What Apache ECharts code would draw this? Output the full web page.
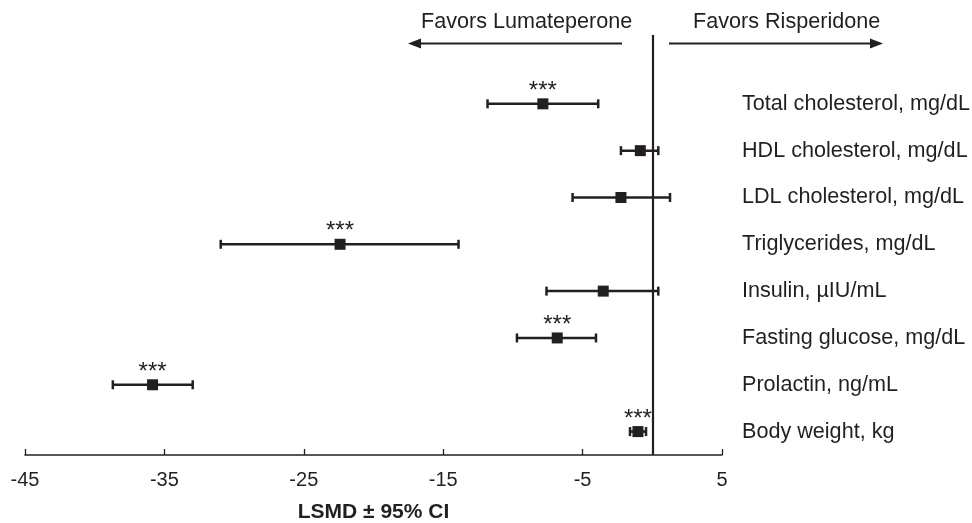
<!DOCTYPE html>
<html>
<head>
<meta charset="utf-8">
<script src="https://cdn.jsdelivr.net/npm/echarts@6/dist/echarts.min.js"></script>
<style>html,body{margin:0;padding:0;background:#fff}#c{width:972px;height:523px}</style>
</head>
<body>
<div id="c"></div>
<script>
var categories = ['Total cholesterol, mg/dL','HDL cholesterol, mg/dL','LDL cholesterol, mg/dL','Triglycerides, mg/dL','Insulin, \u00b5IU/mL','Fasting glucose, mg/dL','Prolactin, ng/mL','Body weight, kg'];
var lsmd  = [-7.85, -0.86, -2.25, -22.4, -3.52, -6.82, -35.85, -1.03];
var lower = [-11.82, -2.25, -5.72, -30.96, -7.59, -9.71, -38.7, -1.6];
var upper = [-3.88, 0.43, 1.27, -13.9, 0.43, -4.04, -32.97, -0.45];
var significance = ['***', '', '', '***', '', '***', '***', '***'];
var xTicks = [-45, -35, -25, -15, -5, 5];
var rowIndex = [0, 1, 2, 3, 4, 5, 6, 7];

var INK = '#231f20';
var FONT = "'Liberation Sans', Arial, Helvetica, sans-serif";

var barData = rowIndex.map(function (i) { return [lower[i], upper[i], i]; });
var pointData = rowIndex.map(function (i) { return [lsmd[i], i, significance[i]]; });

var chart = echarts.init(document.getElementById('c'), null, {renderer: 'canvas'});
chart.setOption({
  animation: false,
  backgroundColor: '#fff',
  textStyle: {fontFamily: FONT},
  grid: {left: 25, right: 250, top: 35, bottom: 68, containLabel: false, outerBoundsMode: 'none'},
  xAxis: {
    type: 'value', min: -45, max: 5,
    axisLine: {show: true, onZero: false, lineStyle: {color: INK, width: 1.6}},
    axisTick: {show: true, inside: true, length: 6, customValues: xTicks, lineStyle: {color: INK, width: 1.3}},
    axisLabel: {customValues: xTicks, color: INK, fontSize: 20, margin: 15, fontFamily: FONT},
    splitLine: {show: false},
    name: 'LSMD \u00b1 95% CI', nameLocation: 'middle', nameGap: 47,
    nameTextStyle: {color: INK, fontSize: 21, fontWeight: 'bold', fontFamily: FONT}
  },
  yAxis: {
    type: 'value', inverse: true, min: -1.47, max: 7.5, position: 'right',
    axisLine: {show: false}, axisTick: {show: false}, splitLine: {show: false},
    axisLabel: {
      customValues: rowIndex, align: 'left', margin: 20, color: INK, fontSize: 21.6, fontFamily: FONT,
      formatter: function (v) { return categories[Math.round(v)] || ''; }
    }
  },
  series: [
    {
      type: 'custom',
      data: barData,
      encode: {x: [0, 1], y: 2},
      renderItem: function (params, api) {
        var a = api.coord([api.value(0), api.value(2)]);
        var b = api.coord([api.value(1), api.value(2)]);
        var cap = 4.5;
        var st = {stroke: INK, lineWidth: 2.5};
        return {type: 'group', children: [
          {type: 'line', shape: {x1: a[0], y1: a[1], x2: b[0], y2: b[1]}, style: st},
          {type: 'line', shape: {x1: a[0], y1: a[1] - cap, x2: a[0], y2: a[1] + cap}, style: st},
          {type: 'line', shape: {x1: b[0], y1: b[1] - cap, x2: b[0], y2: b[1] + cap}, style: st}
        ]};
      },
      z: 2
    },
    {
      type: 'scatter',
      data: pointData,
      symbol: 'rect', symbolSize: 11,
      itemStyle: {color: INK, opacity: 1},
      label: {
        show: true, position: 'inside', offset: [0, -12.5],
        formatter: function (p) { return p.data[2]; },
        color: INK, fontSize: 24, fontFamily: FONT
      },
      markLine: {
        silent: true, symbol: 'none', label: {show: false},
        lineStyle: {color: INK, width: 2.2, type: 'solid'},
        data: [{xAxis: 0}]
      },
      z: 3
    }
  ],
  graphic: [
    {type: 'text', left: 421, top: 11, style: {text: 'Favors Lumateperone', fontSize: 21.6, fill: INK, fontFamily: FONT}},
    {type: 'text', left: 693, top: 11, style: {text: 'Favors Risperidone', fontSize: 21.6, fill: INK, fontFamily: FONT}},
    {type: 'line', shape: {x1: 622, y1: 43.5, x2: 418, y2: 43.5}, style: {stroke: INK, lineWidth: 2.2}},
    {type: 'polygon', shape: {points: [[408, 43.5], [421, 38.5], [421, 48.5]]}, style: {fill: INK}},
    {type: 'line', shape: {x1: 669, y1: 43.5, x2: 873, y2: 43.5}, style: {stroke: INK, lineWidth: 2.2}},
    {type: 'polygon', shape: {points: [[883, 43.5], [870, 38.5], [870, 48.5]]}, style: {fill: INK}}
  ]
});
</script>
</body>
</html>
